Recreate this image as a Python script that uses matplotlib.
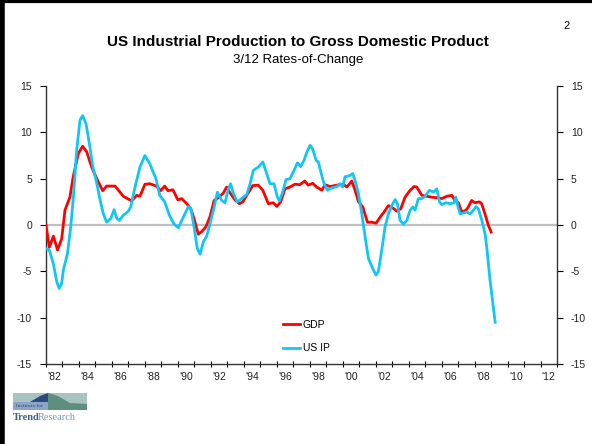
import numpy as np
import matplotlib
matplotlib.use("Agg")
import matplotlib.pyplot as plt
from matplotlib.patches import Polygon, Rectangle

plt.rcParams['font.family'] = ['Liberation Sans', 'DejaVu Sans']
plt.rcParams['axes.unicode_minus'] = False

# GDP, 3/12 rate of change (decimal year, %)
gdp_t = [1982.0, 1982.2, 1982.45, 1982.7, 1982.95, 1983.15, 1983.45, 1983.65, 1983.96,
         1984.22, 1984.47, 1984.77, 1985.08, 1985.44, 1985.68, 1986.19, 1986.69, 1987.2,
         1987.5, 1987.7, 1988.0, 1988.3, 1988.7, 1988.96, 1989.2, 1989.4, 1989.7, 1990.0,
         1990.23, 1990.54, 1990.78, 1990.98, 1991.24, 1991.45, 1991.7, 1991.95, 1992.2,
         1992.46, 1992.76, 1992.96, 1993.17, 1993.47, 1993.73, 1993.94, 1994.18, 1994.54,
         1994.88, 1995.15, 1995.49, 1995.79, 1996.0, 1996.24, 1996.5, 1996.8, 1997.1,
         1997.4, 1997.7, 1997.9, 1998.18, 1998.42, 1998.73, 1998.93, 1999.23, 1999.64,
         2000.04, 2000.25, 2000.55, 2000.75, 2000.96, 2001.22, 2001.5, 2001.76, 2002.03,
         2002.27, 2002.51, 2002.77, 2003.03, 2003.28, 2003.52, 2003.78, 2004.09, 2004.33,
         2004.49, 2004.8, 2005.1, 2005.4, 2005.7, 2006.01, 2006.31, 2006.62, 2006.82,
         2007.02, 2007.22, 2007.48, 2007.62, 2007.82, 2008.02, 2008.29, 2008.43, 2008.63,
         2008.83, 2009.0]
gdp_v = [0.0, -2.4, -1.2, -2.7, -1.5, 1.6, 3.0, 5.2, 7.7,
         8.5, 7.9, 6.25, 5.0, 3.7, 4.2, 4.2, 3.1, 2.6,
         3.2, 3.1, 4.4, 4.45, 4.2, 3.7, 4.2, 3.7, 3.8, 2.7,
         2.85, 2.3, 1.75, 0.7, -1.0, -0.7, -0.2, 0.9, 2.65,
         2.95, 3.45, 4.1, 3.45, 2.7, 2.3, 2.5, 3.2, 4.25,
         4.3, 3.75, 2.3, 2.4, 2.0, 2.5, 3.9, 4.1, 4.4,
         4.35, 4.75, 4.3, 4.5, 4.1, 3.75, 4.35, 4.15, 4.3,
         4.4, 4.1, 4.75, 3.75, 2.5, 1.95, 0.3, 0.3, 0.2,
         0.85, 1.4, 2.1, 1.85, 1.5, 1.75, 3.0, 3.75, 4.15,
         4.1, 3.2, 3.1, 3.0, 2.95, 2.85, 3.1, 3.2, 2.6,
         2.4, 1.4, 1.6, 1.95, 2.65, 2.4, 2.5, 2.3, 1.2,
         0.0, -0.75]

# US industrial production, 3/12 rate of change
ip_t = [1982.0, 1982.2, 1982.45, 1982.65, 1982.8, 1982.95, 1983.05, 1983.3, 1983.5,
        1983.66, 1983.86, 1984.06, 1984.22, 1984.43, 1984.63, 1984.83, 1985.08, 1985.28,
        1985.48, 1985.68, 1985.93, 1986.13, 1986.3, 1986.45, 1986.69, 1987.0, 1987.14,
        1987.4, 1987.7, 1988.0, 1988.3, 1988.67, 1988.9, 1989.2, 1989.5, 1989.77,
        1990.03, 1990.33, 1990.64, 1990.78, 1990.98, 1991.18, 1991.35, 1991.55, 1991.75,
        1991.95, 1992.2, 1992.4, 1992.66, 1992.86, 1993.06, 1993.2, 1993.37, 1993.6,
        1993.87, 1994.18, 1994.38, 1994.58, 1994.88, 1995.15, 1995.39, 1995.59, 1995.83,
        1996.04, 1996.16, 1996.36, 1996.56, 1996.8, 1997.05, 1997.25, 1997.45, 1997.66,
        1997.82, 1998.02, 1998.18, 1998.38, 1998.52, 1998.73, 1998.87, 1999.07, 1999.34,
        1999.64, 1999.84, 2000.0, 2000.14, 2000.45, 2000.61, 2000.75, 2000.95, 2001.16,
        2001.36, 2001.56, 2001.82, 2002.02, 2002.16, 2002.37, 2002.57, 2002.77, 2002.98,
        2003.18, 2003.32, 2003.48, 2003.68, 2003.89, 2004.09, 2004.25, 2004.39, 2004.59,
        2004.8, 2005.0, 2005.26, 2005.5, 2005.71, 2005.87, 2006.01, 2006.27, 2006.51,
        2006.76, 2006.86, 2006.96, 2007.12, 2007.32, 2007.53, 2007.73, 2007.93, 2008.09,
        2008.23, 2008.44, 2008.64, 2008.74, 2008.84, 2008.94, 2009.25]
ip_v = [-2.55, -2.7, -4.2, -6.1, -6.85, -6.3, -4.9, -3.1, -0.2,
        3.0, 8.05, 11.3, 11.8, 10.9, 8.8, 6.4, 4.5, 2.7,
        1.2, 0.3, 0.7, 1.65, 0.7, 0.5, 1.05, 1.5, 1.95,
        4.1, 6.25, 7.5, 6.6, 5.0, 3.2, 2.5, 1.0, 0.1,
        -0.3, 0.85, 2.0, 1.85, -0.2, -2.55, -3.15, -1.8, -1.2,
        0.15, 1.95, 3.55, 2.65, 2.4, 3.9, 4.45, 3.4, 2.5,
        2.85, 3.3, 4.45, 5.9, 6.25, 6.8, 5.55, 4.45, 4.45,
        3.0, 2.6, 3.55, 4.9, 5.0, 5.9, 6.7, 6.3, 7.0,
        7.85, 8.6, 8.2, 7.0, 6.8, 5.35, 4.45, 3.75, 4.0,
        4.15, 4.45, 4.1, 5.2, 5.35, 5.55, 4.8, 3.4, 1.2,
        -1.3, -3.6, -4.7, -5.4, -5.05, -2.7, -0.2, 1.2, 2.1,
        2.75, 2.3, 0.5, 0.1, 0.5, 1.6, 1.95, 1.6, 2.85,
        2.85, 3.1, 3.75, 3.55, 3.9, 2.5, 2.2, 2.4, 2.3,
        2.4, 3.0, 2.2, 1.2, 1.3, 1.4, 1.2, 1.6, 2.0,
        1.75, 0.5, -1.0, -2.4, -4.15, -6.0, -10.5]

year_ticks = np.arange(1982, 2014)
year_labels = ["'82", "'84", "'86", "'88", "'90", "'92", "'94", "'96",
               "'98", "'00", "'02", "'04", "'06", "'08", "'10", "'12"]
y_ticks = [-15, -10, -5, 0, 5, 10, 15]

fig = plt.figure(figsize=(5.92, 4.44), dpi=100)
ax = fig.add_axes([46/592, 1-364/444, 511/592, 278/444])

ax.axhline(0, color='#c0c0c0', lw=1.6, zorder=1)
ax.plot(gdp_t, gdp_v, color='#ff0000', lw=2, label='GDP', zorder=3)
ax.plot(ip_t, ip_v, color='#11c6f5', lw=2, label='US IP', zorder=4)

ax.set_xlim(1982, 2013)
ax.set_ylim(-15, 15)

ax.set_xticks(year_ticks, minor=True)
ax.set_xticks(np.arange(1982.5, 2013, 2))
ax.set_xticklabels(year_labels)
ax.tick_params(axis='x', which='major', length=0, pad=6, labelsize=7.5, labelcolor='#222')
ax.tick_params(axis='x', which='minor', direction='inout', length=5, width=0.8)

ax.set_yticks(y_ticks)
ax.tick_params(axis='y', which='major', direction='out', length=4, width=0.8,
               labelsize=7.5, labelcolor='#222', left=True, right=True,
               labelleft=True, labelright=True, pad=6)

ax.spines['top'].set_visible(False)
for s in ['left', 'right', 'bottom']:
    ax.spines[s].set_color('#333333')
    ax.spines[s].set_linewidth(1)
ax.set_facecolor('white')

leg = ax.legend(loc='lower left', bbox_to_anchor=(0.445, 0.005), frameon=False,
                fontsize=7.5, handlelength=1.7, handletextpad=0.2, labelspacing=1.3)

fig.text(0.503, 1-42/444, 'US Industrial Production to Gross Domestic Product',
         ha='center', va='center', fontsize=11, fontweight='bold')
fig.text(0.503, 1-60/444, '3/12 Rates-of-Change', ha='center', va='center', fontsize=9.5)
fig.text(567/592, 1-26/444, '2', ha='center', va='center', fontsize=8)

# figure border (left and top)
fig.add_artist(plt.Line2D([2/592, 2/592], [0, 1], transform=fig.transFigure,
                          color='black', lw=4))
fig.add_artist(plt.Line2D([0, 1], [1-1.5/444, 1-1.5/444], transform=fig.transFigure,
                          color='black', lw=3))

# logo
def px(x, y):
    return (x/592, 1-y/444)
fig.add_artist(Rectangle(px(13, 410), 74/592, 17/444, transform=fig.transFigure,
                         facecolor='#a9c3c3', edgecolor='none'))
fig.add_artist(Rectangle(px(13, 410), 36/592, 8/444, transform=fig.transFigure,
                         facecolor='#8ea3c8', edgecolor='none'))
fig.add_artist(Polygon([px(13, 402), px(30, 402), px(40, 396), px(48, 393), px(48, 402)],
                       closed=True, transform=fig.transFigure, facecolor='#2a4a7a',
                       edgecolor='none'))
fig.add_artist(Polygon([px(48, 393), px(58, 396), px(70, 403), px(87, 404), px(87, 410),
                        px(48, 410)], closed=True, transform=fig.transFigure,
                       facecolor='#5e8f7e', edgecolor='none'))
fig.text(16/592, 1-406/444, 'Institute for', fontsize=3.2, color='#2a4a7a',
         va='center', family='DejaVu Serif')
fig.text(13/592, 1-417/444, 'Trend', fontsize=7.5, color='#3f5f86', fontweight='bold',
         va='center', family='Liberation Serif')
fig.text(38/592, 1-417/444, 'Research', fontsize=7.5, color='#7b9ab0',
         va='center', family='Liberation Serif')

fig.savefig('out.png', dpi=100)
